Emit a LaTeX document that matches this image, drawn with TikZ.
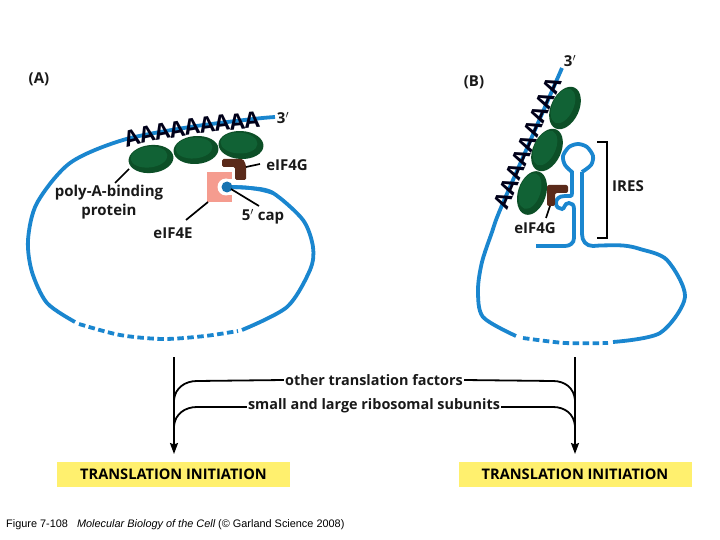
\documentclass[tikz,border=0pt]{standalone}
\usepackage{fontspec}
\setmainfont{Open Sans}
\newfontfamily\capfont{Liberation Sans}
\usetikzlibrary{arrows.meta,shapes.geometric}
\definecolor{rnablue}{HTML}{1A86CF}
\definecolor{pabdark}{HTML}{0C4F27}
\definecolor{pablight}{HTML}{116235}
\definecolor{gbrown}{HTML}{5A2A1A}
\definecolor{epink}{HTML}{F59C8F}
\definecolor{boxyellow}{HTML}{FFF06E}
\tikzset{
  rna/.style={line width=3.8pt, color=rnablue},
  rnadash/.style={rna, dash pattern=on 6.5pt off 3.5pt},
  leader/.style={line width=1.7pt, color=black},
  feed/.style={line width=1.8pt, color=black},
  lab/.style={font=\bfseries\fontsize{15}{16}\selectfont, inner sep=0pt, text=black!90},
  lowlab/.style={font=\bfseries\fontsize{14.4}{16}\selectfont, inner sep=0pt, text=black!90},
  polyA/.style={font=\bfseries\fontsize{22}{22}\selectfont, inner sep=0pt, text=black!90!blue},
  pab/.style={ellipse, draw=none, fill=pabdark, minimum width=45pt, minimum height=28pt, inner sep=0pt},
  pabtop/.style={ellipse, draw=none, fill=pablight, minimum width=37pt, minimum height=21pt, inner sep=0pt},
  initbox/.style={fill=boxyellow, minimum width=233pt, minimum height=25pt, inner sep=0pt,
    font=\bfseries\fontsize{14.6}{16}\selectfont},
}
\def\pabprot(#1)(#2,#3)(#4){\node[pab, rotate=#4] (#1) at (#2,#3) {};
  \node[pabtop, rotate=#4] at ([shift={(-2,-2)}]#1) {};}

\begin{document}
\begin{tikzpicture}[x=1pt,y=-1pt]
	\useasboundingbox[fill=white] (0,0) rectangle (720,540);

	%%%%% panel A %%%%%
	\node[lab] (panelA) at (39,79) {(A)};

	\draw[rna] plot[smooth] coordinates {(275,117) (253,119) (190,127) (123,140) (70,163) (37,203) (28,240) (32,272) (47,303) (75,322)};
	\draw[rnadash] plot[smooth] coordinates {(79,324) (120,335) (163,339) (205,336) (238,331)};
	\draw[rna] plot[smooth] coordinates {(242,330) (287,307) (310,270) (313,247) (303,220) (273,193) (250,188) (227,187)};

	\foreach \x/\y/\r in {132/138/15, 147/134.5/13, 162/131.5/11, 177/129/10, 192/127/9, 207/125/8, 222/123/7, 237/121.5/6, 252/120/5}
		\node[polyA, rotate=\r] at (\x,\y) {A};
	\node[lab] (threeA) at (283,118) {3$'$};

	\pabprot(pabA1)(151,159)(6)
	\pabprot(pabA2)(196,150)(4)
	\pabprot(pabA3)(241,145)(-3)

	% eIF4E with its notch, eIF4G, cap
	\fill[epink] (207,172) rectangle (232,202);
	\fill[white] (226,187) circle (8.5);
	\fill[white] (226,179) rectangle (234,195);
	\fill[gbrown, rounded corners=1.5pt] (222,159) -- (243,159) -- (246,165) -- (246,180) -- (235,180) -- (235,167) -- (222,167) -- cycle;
	\draw[rna] (273,193) .. controls (258,188) and (245,187) .. (227,187);
	\fill[rnablue!85!black] (227,187) circle (5.5);
	\coordinate (capA) at (231,189);
	\coordinate (fourEA) at (208,202);
	\coordinate (fourGA) at (246,167);
	\coordinate (pabfoot) at (129,169);

	\node[lab] (polylab) at (109,193) {poly-A-binding};
	\node[lab] (protlab) at (109,212) {protein};
	\node[lab] (gAlab) at (287,165) {eIF4G};
	\node[lab] (eAlab) at (173,233) {eIF4E};
	\node[lab] (capAlab) at (263,217) {5$'$ cap};

	\draw[leader] (pabfoot) -- (115,183);
	\draw[leader] (fourGA) -- (260,164);
	\draw[leader] (fourEA) -- (186,220);
	\draw[leader] (capA) -- (259,206);

	%%%%% panel B %%%%%
	\node[lab] (panelB) at (474,82) {(B)};

	\draw[rna] plot[smooth] coordinates {(562,68) (531,139) (500,210) (492,232) (482,262) (478,290) (483,317) (516,336)};
	\draw[rnadash] plot[smooth] coordinates {(523,338) (565,343) (608,343)};
	% the stem and its hairpin
	\draw[rna] plot[smooth] coordinates {(613,342) (660,333) (685,297) (667,260) (640,249) (623,245.5) (600,245.5)}
		-- (593,246) .. controls (586,246) and (582,241) .. (582,234) -- (582,172);
	\draw[rna] plot[smooth] coordinates {(582,172) (591,165) (593,156) (587,147) (578,144) (569,147) (563,156) (565,165) (572,172)}
		-- (572,193) .. controls (572,197) and (570,196) .. (565,196)
		.. controls (559,196) and (556,199) .. (556,203)
		.. controls (556,207) and (559,209) .. (562,209)
		.. controls (565,209) and (564,203) .. (569,203)
		.. controls (572,203) and (574,205) .. (574,209) -- (574,238)
		.. controls (574,243) and (570,246) .. (565,246) -- (536,246);

	\foreach \x/\y in {503/200, 509/186, 515/171.5, 521/157, 527/143, 533/128.5, 539/114, 545/100, 552/85}
		\node[polyA, rotate=67] at (\x,\y) {A};
	\node[lab] (threeB) at (570,61) {3$'$};

	\fill[gbrown, rounded corners=2pt] (547,185) -- (568,185) -- (568,193) -- (555,193) -- (555,206) -- (547,206) -- cycle;
	\pabprot(pabB1)(565,108)(65)
	\pabprot(pabB2)(547,150)(65)
	\pabprot(pabB3)(532,193)(72)

	\node[lab] (gBlab) at (535,228) {eIF4G};
	\coordinate (fourGB) at (550,206);
	\draw[leader] (fourGB) -- (546,218);

	\draw[line width=1.5pt] (597,142) -- (607,142) -- (607,238) -- (597,238);
	\node[lab] (ireslab) at (628,186) {IRES};

	%%%%% lower part %%%%%
	\node[lowlab] (factors) at (374,380) {other translation factors};
	\node[lowlab] (subunits) at (374,406) {small and large ribosomal subunits};

	\node[initbox] (initA) at (173.5,474.5) {TRANSLATION INITIATION};
	\node[initbox] (initB) at (575,474.5) {TRANSLATION INITIATION};

	\coordinate (topA) at (174,357);
	\coordinate (topB) at (575,357);
	\draw[feed, -{Stealth[length=11pt,width=8pt,inset=1.5pt]}] (topA) -- (174,454);
	\draw[feed, -{Stealth[length=11pt,width=8pt,inset=1.5pt]}] (topB) -- (575,454);

	\draw[feed] (factors.west) ++(-1,0) -- (197,381) .. controls (185,381) and (175,388) .. (174,400);
	\draw[feed] (subunits.west) ++(-1,1) -- (197,407) .. controls (185,407) and (175,414) .. (174,426);
	\draw[feed] (factors.east) ++(1,0) -- (553,381) .. controls (565,381) and (574,388) .. (575,400);
	\draw[feed] (subunits.east) ++(1,1) -- (553,407) .. controls (565,407) and (574,414) .. (575,426);

	\node[inner sep=0pt, anchor=west, font=\capfont\fontsize{10.9}{12}\selectfont] (caption) at (6,525)
		{Figure 7-108\ \ \ {\itshape Molecular Biology of the Cell} (© Garland Science 2008)};
\end{tikzpicture}
\end{document}
